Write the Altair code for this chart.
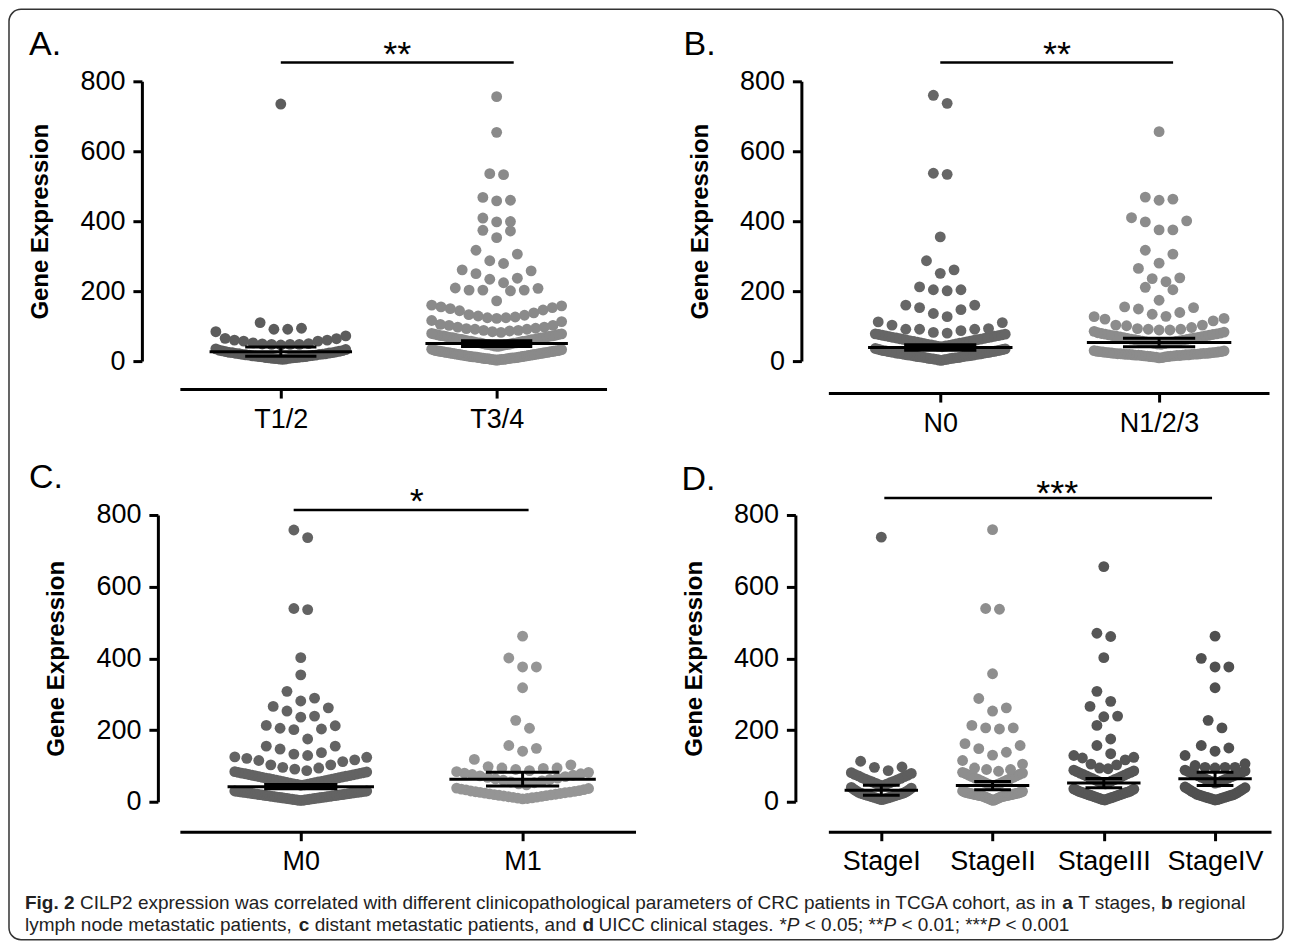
import altair as alt
import pandas as pd

# ---------------- data ----------------
cats_a = ["T1/2", "T3/4"]
cats_b = ["N0", "N1/2/3"]
cats_c = ["M0", "M1"]
cats_d = ["StageI", "StageII", "StageIII", "StageIV"]

t12 = [735, 110, 94, 91, 91,
       84, 72, 65, 64, 60, 60, 57, 57, 52, 50, 49, 48, 48, 48, 46,
       35, 33, 31, 30, 29, 28, 27, 26, 25, 24, 24, 23, 22, 21, 21, 20, 19, 19, 18, 17,
       17, 16, 15, 15, 14, 13, 13, 12, 12, 11, 10, 10, 9, 9, 8, 8, 7, 6, 6, 5]
t34 = [756, 654, 536, 533, 468, 460, 458, 409, 399, 398, 374, 372, 353,
       317, 306, 287, 279, 261, 258, 250, 237, 234, 224,
       209, 208, 203, 203, 203, 201, 172,
       160, 158, 155, 153, 150, 146, 144, 138, 133, 131, 129, 126, 124, 124, 122,
       116, 113, 105, 102, 102, 97, 97, 94, 93, 91, 91, 88, 88, 86, 84, 82,
       79, 78, 77, 76, 75, 74, 73, 72, 72, 71, 70, 69, 68, 67, 67, 66, 65, 64, 63, 62,
       62, 61, 60, 59, 58, 57, 57, 56, 55, 54, 53, 52, 52, 51, 50, 49, 48, 47, 47, 46,
       45, 44, 43, 42,
       34, 33, 32, 31, 30, 30, 29, 29, 28, 28, 27, 27, 26, 26, 25, 25, 24, 24, 23, 23,
       22, 22, 21, 21, 20, 20, 19, 19, 18, 18, 17, 17, 16, 16, 15, 15, 14, 14, 13, 13,
       12, 12, 12, 11, 11, 10, 10, 9, 9, 9, 8, 8, 7, 7, 7, 6, 6, 5, 5, 5, 4, 4, 3, 3]

n0 = [760, 737, 537, 534, 355, 287, 261, 251, 212, 204, 204, 201,
      160, 160, 153, 147, 136, 127,
      112, 110, 103, 93, 91, 91, 91, 87, 82, 80,
      78, 77, 76, 75, 74, 73, 72, 71, 70, 69, 68, 67, 66, 65, 64, 63, 62, 61, 60, 59,
      58, 57, 56, 55, 54, 53, 52, 51, 50, 49, 48, 47, 46, 45, 44, 43, 42, 41,
      36, 35, 34, 33, 32, 31, 30, 30, 29, 28, 27, 27, 26, 25, 25, 24, 23, 23, 22, 21,
      21, 20, 19, 19, 18, 17, 17, 16, 16, 15, 14, 14, 13, 13, 12, 11, 11, 10, 10, 9,
      8, 8, 7, 7, 6, 5, 5, 4, 3, 2]
n123 = [656, 469, 463, 460, 410, 401, 398, 375, 375, 317, 306, 280, 265, 238, 236, 227,
        211, 204, 174, 155, 153, 149, 139, 134, 128,
        127, 122, 120, 115, 103, 103, 101, 96, 93, 91, 91, 89, 89,
        85, 83, 81, 80, 79, 78, 77, 76, 75, 74, 73, 72, 71, 70, 69, 68, 67, 66, 65, 64,
        63, 62, 61, 60, 59, 58, 57, 56, 55, 54, 53, 52, 51, 50, 49, 48,
        30, 29, 28, 27, 27, 26, 26, 25, 25, 24, 24, 23, 23, 22, 22, 22, 21, 21, 21, 20,
        20, 20, 19, 19, 19, 18, 18, 18, 17, 17, 17, 16, 16, 16, 15, 15, 14, 14, 13, 13,
        12, 12, 11, 10, 9]

m0 = [758, 737, 539, 536, 402, 354, 308, 289, 281, 266, 262, 253, 239, 236,
      213, 212, 205, 203, 201, 175, 155, 155, 147, 137, 133, 129,
      125, 124, 121, 117, 115, 112, 103, 103, 96, 94, 91, 87,
      84, 83, 82, 81, 80, 79, 78, 77, 76, 75, 74, 73, 72, 71, 70, 69, 68, 67, 66, 65,
      64, 63, 62, 61, 60, 59, 58, 57, 56, 55, 54, 53, 52, 51, 50, 49, 48, 47, 46,
      30, 30, 29, 29, 28, 28, 27, 27, 26, 26, 25, 25, 24, 24, 23, 23, 22, 22, 21, 21,
      20, 20, 19, 19, 18, 18, 17, 17, 16, 16, 15, 15, 14, 14, 13, 13, 12, 12, 11, 11,
      10, 10, 9, 9, 8, 8, 7, 7, 6, 6, 5, 5, 4, 4]
m1 = [462, 401, 376, 376, 318, 227, 205, 157, 149, 141,
      118, 103, 98, 94, 94, 93, 90, 87,
      84, 82, 80, 78, 76, 74, 72, 70, 68, 66, 64, 62, 60, 58, 55, 53, 50, 47,
      38, 37, 35, 34, 33, 31, 30, 29, 28, 27, 26, 25, 24, 23, 22, 21, 20, 19, 18, 17,
      16, 15, 14, 13, 12, 11, 10, 9, 8]

s1 = [738, 113, 97, 96, 87,
      81, 79, 76, 74, 72, 70, 67, 65, 63, 61, 59, 57, 55, 53, 51, 49, 47, 45,
      40, 38, 35, 33, 31, 29, 27, 25, 24, 23, 22, 21, 20, 19, 18, 17, 16, 15, 14, 13,
      12, 11, 10, 9, 8, 7, 6]
s2 = [759, 539, 537, 357, 288, 262, 253, 213, 206, 206, 203, 162, 157, 148, 138, 130,
      115, 105, 94, 90, 90, 85,
      82, 80, 78, 76, 74, 72, 70, 68, 66, 64, 62, 60, 58, 56, 54, 52, 50, 48, 46, 45,
      30, 29, 28, 27, 26, 25, 25, 24, 24, 23, 23, 22, 22, 21, 21, 20, 20, 19, 19, 18,
      18, 17, 17, 16, 16, 15, 15, 14, 13, 12, 11, 10, 9, 8, 7, 6, 5, 4]
s3 = [656, 470, 461, 402, 308, 280, 266, 239, 237, 213, 175, 157,
      134, 129, 124, 122, 117, 105, 103, 94, 92,
      88, 86, 84, 82, 80, 78, 76, 74, 72, 70, 68, 66, 64, 62, 60, 58, 56, 54, 52, 50,
      36, 35, 33, 32, 30, 29, 28, 27, 26, 25, 24, 23, 22, 21, 20, 19, 18, 17, 16, 15,
      14, 13, 12, 11, 10, 9, 8, 7, 6, 5]
s4 = [462, 400, 376, 376, 318, 227, 206, 157, 150, 141, 129, 106, 101, 96, 96, 96, 94,
      88, 86, 84, 82, 80, 78, 76, 74, 72, 70, 68, 66, 64, 62, 60, 58, 56, 54, 52,
      41, 39, 37, 35, 33, 31, 29, 27, 25, 23, 21, 20, 19, 18, 17, 16, 15, 14, 13, 12,
      11, 10, 9, 8, 7, 6, 5]

mean_a, sem_a = [27, 50], [13, 8]
mean_b, sem_b = [39, 53], [8, 12]
mean_c, sem_c = [42, 63], [6, 19]
mean_d, sem_d = [32, 45, 52, 64], [14, 11.5, 13, 18.5]
star_text = ["**", "**", "*", "***"]
y_ticks = [0, 200, 400, 600, 800]

# ---------------- styles / layout ----------------
FONT = "Liberation Sans"
DOT_PX = 13.8
ROW_H = 38


def swarm(values, center, px_per_unit, max_half_px):
    vals = sorted(values)
    rows, cur, start = [], [], None
    for v in vals:
        if start is None or v > start + ROW_H:
            if cur:
                rows.append(cur)
            cur, start = [v], v
        else:
            cur.append(v)
    if cur:
        rows.append(cur)
    out = []
    for row in rows:
        n = len(row)
        step = DOT_PX
        if n > 1 and (n - 1) * step / 2 > max_half_px:
            step = 2 * max_half_px / (n - 1)
        slots = [(i - (n - 1) / 2) * step for i in range(n)]
        slots.sort(key=lambda s: (round(abs(s), 6), -s))
        for v, s in zip(row, slots):
            out.append((center + s / px_per_unit, v))
    return out


def build_panel(cats, groups, colors, means, sems, width, height, xdom, xoff, yoff,
                half_px, sig, stars, star_pos, letter, letter_xy, extra=()):
    n = len(cats)
    ppu = width / (xdom[1] - xdom[0])
    recs = []
    for i, (vals, col) in enumerate(zip(groups, colors)):
        for xv, yv in swarm(vals, i, ppu, half_px):
            recs.append({"x": xv, "y": yv, "c": col})
    pts = pd.DataFrame(recs)
    xs = alt.Scale(domain=list(xdom), nice=False, zero=False)
    ys = alt.Scale(domain=[0, 800], nice=False, zero=False)
    label_expr = "[" + ",".join("'%s'" % c for c in cats) + "][datum.value]"
    common = dict(domainColor="black", domainWidth=3, tickColor="black", tickWidth=3,
                  tickSize=9, labelFont=FONT, labelFontSize=27, labelColor="black",
                  grid=False, labelFlush=False, labelOverlap=False, labelPadding=8)
    xaxis = alt.Axis(values=list(range(n)), labelExpr=label_expr, orient="bottom",
                     offset=xoff, title="", **common)
    yaxis = alt.Axis(values=y_ticks, orient="left", offset=yoff, title="Gene Expression",
                     titleFont=FONT, titleFontSize=24, titleFontWeight="bold",
                     titleColor="black", titlePadding=27, **common)

    def X(f):
        return alt.X(f, scale=xs, axis=xaxis)

    def Y(f):
        return alt.Y(f, scale=ys, axis=yaxis)

    points = alt.Chart(pts).mark_circle(size=118, opacity=1).encode(
        x=X("x:Q"), y=Y("y:Q"), color=alt.Color("c:N", scale=None))
    stats = pd.DataFrame({
        "pos": list(range(n)),
        "mean": means,
        "lo": [m - s for m, s in zip(means, sems)],
        "hi": [m + s for m, s in zip(means, sems)],
    })
    stats["m1"] = stats["pos"] - 0.33
    stats["m2"] = stats["pos"] + 0.33
    stats["c1"] = stats["pos"] - 0.165
    stats["c2"] = stats["pos"] + 0.165
    base = alt.Chart(stats).mark_rule(color="black", strokeWidth=3)
    mean_rule = base.encode(x=X("m1:Q"), x2="m2:Q", y=Y("mean:Q"))
    cap_hi = base.encode(x=X("c1:Q"), x2="c2:Q", y=Y("hi:Q"))
    cap_lo = base.encode(x=X("c1:Q"), x2="c2:Q", y=Y("lo:Q"))
    vert = base.encode(x=X("pos:Q"), y=Y("lo:Q"), y2="hi:Q")
    sigdf = pd.DataFrame({"x1": [sig[0]], "x2": [sig[1]], "y": [sig[2]]})
    sig_rule = alt.Chart(sigdf).mark_rule(color="black", strokeWidth=2.5).encode(
        x=X("x1:Q"), x2="x2:Q", y=Y("y:Q"))
    stdf = pd.DataFrame({"x": [star_pos[0]], "y": [star_pos[1]], "t": [stars]})
    star_mark = alt.Chart(stdf).mark_text(font=FONT, fontSize=36, align="center",
                                          baseline="alphabetic", color="black").encode(
        x=X("x:Q"), y=Y("y:Q"), text="t:N")
    ldf = pd.DataFrame({"t": [letter]})
    letter_mark = alt.Chart(ldf).mark_text(font=FONT, fontSize=34, align="left",
                                           baseline="alphabetic", color="black").encode(
        x=alt.value(letter_xy[0]), y=alt.value(letter_xy[1]), text="t:N")
    return alt.layer(points, mean_rule, cap_hi, cap_lo, vert, sig_rule, star_mark,
                     letter_mark, *extra).properties(width=width, height=height)


# caption (positions relative to panel A's plot origin)
L1, L2 = 828, 850
cap_regular = pd.DataFrame({
    "px": [-100, 899, 999, -155, 135, 419, 600, 625.4, 722.1, 826.2],
    "py": [L1, L1, L1, L2, L2, L2, L2, L2, L2, L2],
    "t": ["CILP2 expression was correlated with different clinicopathological parameters of CRC patients in TCGA cohort, as in",
          "T stages,", "regional", "lymph node metastatic patients,",
          "distant metastatic patients, and", "UICC clinical stages.",
          "*", "< 0.05; **", "< 0.01; ***", "< 0.001"],
})
cap_italic = pd.DataFrame({"px": [607.4, 704.1, 808.2], "py": [L2, L2, L2], "t": ["P", "P", "P"]})
cap_bold = pd.DataFrame({
    "px": [-155, 883, 982, 119, 403],
    "py": [L1, L1, L1, L2, L2],
    "t": ["Fig. 2", "a", "b", "c", "d"],
})


def caption_layer(df, **kw):
    return alt.Chart(df).mark_text(font=FONT, fontSize=19, align="left",
                                   baseline="alphabetic", color="#222222", **kw).encode(
        x=alt.X("px:Q", scale=None), y=alt.Y("py:Q", scale=None), text="t:N")


border = alt.Chart(pd.DataFrame({"k": [0]})).mark_rect(
    cornerRadius=12, fillOpacity=0, stroke="#333333", strokeWidth=1.5).encode(
    x=alt.value(-171), x2=alt.value(1104), y=alt.value(-72), y2=alt.value(859))

extras_a = [border,
            caption_layer(cap_regular),
            caption_layer(cap_italic, fontStyle="italic"),
            caption_layer(cap_bold, fontWeight="bold")]

pA = build_panel(cats_a, [t12, t34], ["#5c5c5c", "#8a8a8a"], mean_a, sem_a,
                 427, 280, (-0.4676, 1.509), 28, 38, 65, (0, 1.079, 854), star_text[0],
                 (0.54, 843), "A.", (-151, -26), extras_a)
pB = build_panel(cats_b, [n0, n123], ["#666666", "#8c8c8c"], mean_b, sem_b,
                 441, 280, (-0.5114, 1.5023), 32, 27, 65, (0, 1.064, 854), star_text[1],
                 (0.534, 843), "B.", (-145, -26))
pC = build_panel(cats_c, [m0, m1], ["#636363", "#959595"], mean_c, sem_c,
                 456, 287, (-0.545, 1.509), 30, 22, 66, (-0.032, 1.027, 814), star_text[2],
                 (0.523, 806), "C.", (-151, -27))
pD = build_panel(cats_d, [s1, s2, s3, s4], ["#5e5e5e", "#8e8e8e", "#565656", "#505050"],
                 mean_d, sem_d, 443, 287, (-0.476, 3.503), 30, 33, 30,
                 (0.027, 2.973, 847), star_text[3], (1.581, 828), "D.", (-147, -25))

chart = alt.concat(pA, pB, pC, pD, columns=2, spacing={"row": 147, "column": 193},
                   bounds="flush", align="all").properties(padding=0).configure_view(stroke=None)

chart.save("out.html", embed_options={"renderer": "svg", "actions": False})
